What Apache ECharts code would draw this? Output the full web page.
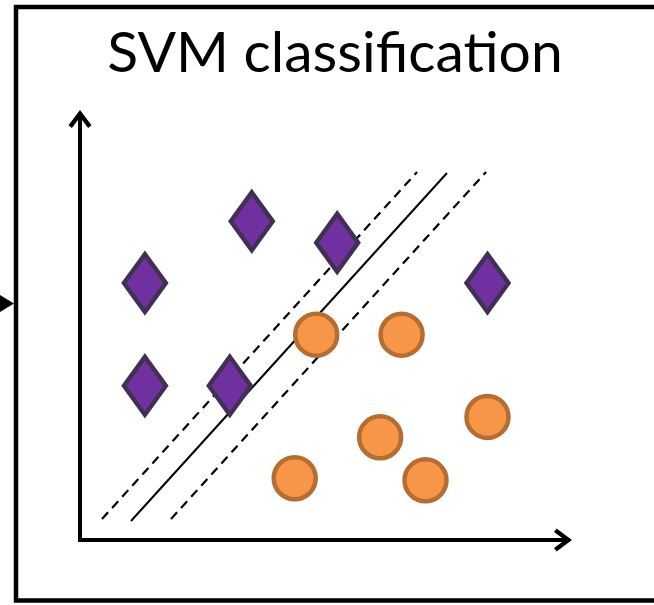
<!DOCTYPE html>
<html>
<head>
<meta charset="utf-8">
<script src="https://cdn.jsdelivr.net/npm/echarts@6/dist/echarts.min.js"></script>
<style>
html,body{margin:0;padding:0;background:#fff;}
#chart{width:654px;height:605px;}
</style>
</head>
<body>
<div id="chart"></div>
<script>
// ---- data ----
var titleText = 'SVM classification';
// class 1 (purple diamonds): [x, y]
var classDiamonds = [[1.33, 6.03], [3.52, 7.48], [5.27, 6.98], [8.35, 6.03], [1.33, 3.62], [3.07, 3.62]];
// class 2 (orange circles): [x, y]
var classCircles = [[4.84, 4.82], [6.59, 4.82], [6.15, 2.41], [8.35, 2.89], [4.40, 1.45], [7.08, 1.40]];
// separating hyperplane and margins: [start, end]
var hyperplane = [[1.045, 0.446], [7.52, 8.615]];
var marginUpper = [[0.451, 0.493], [6.906, 8.638]];
var marginLower = [[1.865, 0.493], [8.32, 8.638]];

var chevron = 'path://M12,0 L24,16 L20.4,18.7 L12,7.5 L3.6,18.7 L0,16 Z';

var chart = echarts.init(document.getElementById('chart'), null, {renderer: 'canvas'});

function axisCfg() {
  return {
    type: 'value', min: 0, max: 10,
    axisLine: {
      show: true, onZero: true,
      lineStyle: {color: '#000', width: 4, cap: 'square'},
      symbol: ['none', chevron],
      symbolSize: [23, 20],
      symbolOffset: [0, -5]
    },
    axisTick: {show: false},
    axisLabel: {show: false},
    splitLine: {show: false}
  };
}

var option = {
  animation: false,
  backgroundColor: '#fff',
  grid: {left: 80, top: 114, width: 488, height: 426, containLabel: false},
  xAxis: axisCfg(),
  yAxis: axisCfg(),
  graphic: [
    {type: 'rect', shape: {x: 16, y: 7, width: 720, height: 593.5},
     style: {fill: 'none', stroke: '#000', lineWidth: 4.5}, z: 100},
    {type: 'polygon', shape: {points: [[0, 295], [14, 303.5], [0, 312]]},
     style: {fill: '#000'}, z: 100},
    {type: 'text', x: 335, y: 53.5, z: 100,
     style: {text: titleText, font: '57px Lato', fill: '#000', align: 'center', verticalAlign: 'middle'}}
  ],
  series: [
    {type: 'line', data: marginUpper, symbol: 'none', silent: true, z: 1,
     lineStyle: {color: '#000', width: 2.2, type: [9, 6]}},
    {type: 'line', data: hyperplane, symbol: 'none', silent: true, z: 1,
     lineStyle: {color: '#000', width: 2}},
    {type: 'line', data: marginLower, symbol: 'none', silent: true, z: 1,
     lineStyle: {color: '#000', width: 2.2, type: [9, 6]}},
    {type: 'scatter', data: classDiamonds, symbol: 'diamond', symbolSize: [42, 58], z: 3,
     itemStyle: {color: '#7030A0', borderColor: '#403152', borderWidth: 4.5, opacity: 1}},
    {type: 'scatter', data: classCircles, symbol: 'circle', symbolSize: 42, z: 3,
     itemStyle: {color: '#F79646', borderColor: '#B56D31', borderWidth: 4.5, opacity: 1}}
  ]
};
chart.setOption(option);
</script>
</body>
</html>
